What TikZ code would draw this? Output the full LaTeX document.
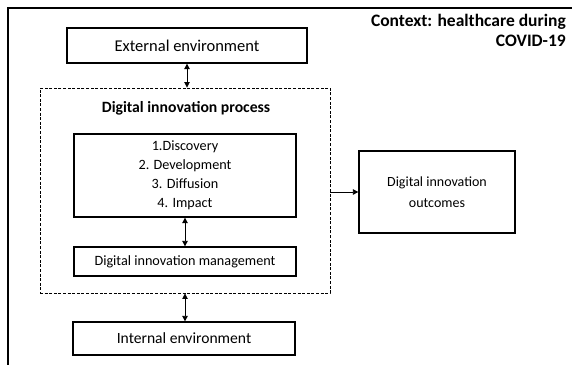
\documentclass[tikz,border=0pt]{standalone}
\usepackage{fontspec}
\setmainfont{Carlito}
\usetikzlibrary{arrows.meta}
\tikzset{
  box/.style={draw, line width=1.3pt, inner sep=0pt, align=center},
  groupbox/.style={draw, line width=0.9pt, dash pattern=on 3pt off 1.6pt, inner sep=0pt},
  link/.style={line width=0.8pt, {Triangle[length=5.5pt,width=5.5pt]}-{Triangle[length=5.5pt,width=5.5pt]}},
  onelink/.style={line width=0.8pt, -{Triangle[length=5.5pt,width=5.5pt]}},
}
\begin{document}
\begin{tikzpicture}[x=1pt,y=-1pt]
  \clip (0,0) rectangle (572,364);
  % outer frame, running past the right and bottom edges
  \draw[line width=1.2pt] (8,400) -- (8,8) -- (600,8);

  \node[box, minimum width=240pt, minimum height=35pt, font=\fontsize{16.5}{20}\selectfont]
    (ext) at (187,45.5) {External environment};

  \node[anchor=north east, align=right, inner sep=0pt, font=\bfseries\fontsize{17.5}{20}\selectfont]
    (ctx) at (566,14) {Context: healthcare during\\COVID-19};

  \node[groupbox, minimum width=290pt, minimum height=205pt] (dip) at (185,190.5) {};
  \node[inner sep=0pt, font=\bfseries\fontsize{15.7}{18}\selectfont] (diptitle) at (186,108) {Digital innovation process};

  \node[box, minimum width=222pt, minimum height=83pt, font=\fontsize{14.2}{19}\selectfont]
    (proc) at (185,175.5) {1.Discovery\\2. Development\\3. Diffusion\\4. Impact};

  \node[box, minimum width=222pt, minimum height=29pt, font=\fontsize{14.2}{17}\selectfont]
    (mgmt) at (185,261.5) {Digital innovation management};

  \node[box, minimum width=222pt, minimum height=33pt, font=\fontsize{15.6}{19}\selectfont]
    (int) at (184,338.5) {Internal environment};

  \node[box, minimum width=156pt, minimum height=82pt, font=\fontsize{14}{21}\selectfont]
    (out) at (437,192) {Digital innovation\\outcomes};

  \draw[link] (ext.south) -- (ext.south |- dip.north);
  \draw[link] (proc.south) -- (mgmt.north);
  \draw[link] (dip.south) -- (dip.south |- int.north);
  \draw[onelink] (dip.east |- out.west) -- (out.west);
\end{tikzpicture}
\end{document}
